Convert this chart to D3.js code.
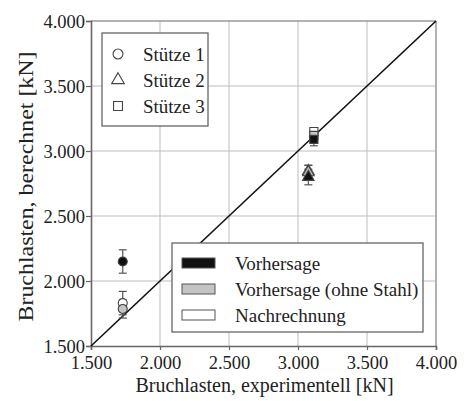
<!DOCTYPE html>
<html>
<head>
<meta charset="utf-8">
<script src="https://cdn.jsdelivr.net/npm/d3@7"></script>
<style>
  html, body { margin: 0; padding: 0; background: #fff; }
  svg { display: block; }
  text { font-family: "Liberation Serif", "Times New Roman", serif; fill: #222; }
</style>
</head>
<body>
<svg id="chart" width="470" height="401"></svg>
<script>
// Failure loads: experiment vs. calculation [kN]
const ticks = [1500, 2000, 2500, 3000, 3500, 4000];
const columns = ["Stütze 1", "Stütze 2", "Stütze 3"];
const symbols = ["circle", "triangle", "square"];
const methods = ["Vorhersage", "Vorhersage (ohne Stahl)", "Nachrechnung"];
const methodFill = ["#111111", "#c4c4c4", "#ffffff"];

// experimental load per column
const experimental = [1730, 3075, 3115];
// calculated loads per column: [Vorhersage, ohne Stahl, Nachrechnung]
const predicted      = [2150, 2800, 3090];
const predictedNoSt  = [1785, 2835, 3120];
const recalculated   = [1830, 2845, 3150];
// scatter of the calculated values (±)
const errPredicted     = [90, 60, 50];
const errPredictedNoSt = [70, 55, 40];
const errRecalculated  = [90, 45, 30];

const fmt = v => d3.format(",.3f")(v / 1000).replace(",", "");

const svg = d3.select("#chart");
const x = d3.scaleLinear().domain([1500, 4000]).range([91, 436]);
const y = d3.scaleLinear().domain([1500, 4000]).range([346, 21]);

// grid
svg.append("g").selectAll("line.v").data(ticks.slice(1, -1)).join("line")
  .attr("x1", d => x(d)).attr("x2", d => x(d))
  .attr("y1", y(1500)).attr("y2", y(4000))
  .attr("stroke", "#bdbdbd").attr("stroke-width", 1);
svg.append("g").selectAll("line.h").data(ticks.slice(1, -1)).join("line")
  .attr("y1", d => y(d)).attr("y2", d => y(d))
  .attr("x1", x(1500)).attr("x2", x(4000))
  .attr("stroke", "#bdbdbd").attr("stroke-width", 1);

// frame: top/right lighter
svg.append("line").attr("x1", x(1500)).attr("x2", x(4000)).attr("y1", y(4000)).attr("y2", y(4000))
  .attr("stroke", "#9a9a9a").attr("stroke-width", 1.5);
svg.append("line").attr("x1", x(4000)).attr("x2", x(4000)).attr("y1", y(4000)).attr("y2", y(1500))
  .attr("stroke", "#9a9a9a").attr("stroke-width", 1.5);

// axes
const xAxis = svg.append("g").attr("transform", `translate(0,${y(1500)})`)
  .call(d3.axisBottom(x).tickValues(ticks).tickFormat(fmt).tickSize(4).tickPadding(6));
const yAxis = svg.append("g").attr("transform", `translate(${x(1500)},0)`)
  .call(d3.axisLeft(y).tickValues(ticks).tickFormat(fmt).tickSize(5).tickPadding(1));
[xAxis, yAxis].forEach(a => {
  a.select(".domain").attr("stroke", "#666").attr("stroke-width", 1.6);
  a.selectAll(".tick line").attr("stroke", "#666").attr("stroke-width", 1.2);
  a.selectAll(".tick text").attr("font-family", "Liberation Serif").attr("font-size", 18.5).attr("fill", "#333");
});
yAxis.selectAll(".tick text").attr("dy", "0.36em");

// axis titles
svg.append("text").attr("x", (x(1500) + x(4000)) / 2 + 1).attr("y", 392)
  .attr("text-anchor", "middle").attr("font-size", 20).attr("fill", "#333")
  .text("Bruchlasten, experimentell [kN]");
svg.append("text").attr("transform", `translate(33,${(y(1500) + y(4000)) / 2 + 3}) rotate(-90)`)
  .attr("text-anchor", "middle").attr("font-size", 21).attr("fill", "#333")
  .attr("textLength", 270).attr("lengthAdjust", "spacingAndGlyphs")
  .text("Bruchlasten, berechnet [kN]");

// 1:1 line
svg.append("line").attr("x1", x(1500)).attr("y1", y(1500)).attr("x2", x(4000)).attr("y2", y(4000))
  .attr("stroke", "#111").attr("stroke-width", 1.6);

// markers
const symType = { circle: d3.symbolCircle, triangle: d3.symbolTriangle, square: d3.symbolSquare };
const symSize = { circle: 64, triangle: 58, square: 66 };
const pts = [];
const order = [[recalculated, errRecalculated, 2], [predictedNoSt, errPredictedNoSt, 1], [predicted, errPredicted, 0]];
columns.forEach((c, i) => {
  order.forEach(([vals, errs, m]) => {
    pts.push({ col: i, sym: symbols[i], m, ex: experimental[i], v: vals[i], e: errs[i] });
  });
});

const g = svg.append("g");
pts.forEach(p => {
  const cx = x(p.ex);
  const eb = g.append("g").attr("stroke", "#555").attr("stroke-width", 1.2);
  eb.append("line").attr("x1", cx).attr("x2", cx).attr("y1", y(p.v - p.e)).attr("y2", y(p.v + p.e));
  eb.append("line").attr("x1", cx - 4).attr("x2", cx + 4).attr("y1", y(p.v - p.e)).attr("y2", y(p.v - p.e));
  eb.append("line").attr("x1", cx - 4).attr("x2", cx + 4).attr("y1", y(p.v + p.e)).attr("y2", y(p.v + p.e));
});
pts.forEach(p => {
  g.append("path")
    .attr("d", d3.symbol().type(symType[p.sym]).size(symSize[p.sym])())
    .attr("transform", `translate(${x(p.ex)},${y(p.v)})`)
    .attr("fill", methodFill[p.m]).attr("stroke", "#444").attr("stroke-width", 1.1);
});

// legend: columns
const lg1 = svg.append("g");
lg1.append("rect").attr("x", 102).attr("y", 33).attr("width", 106).attr("height", 93)
  .attr("fill", "#fff").attr("stroke", "#666").attr("stroke-width", 1.3);
columns.forEach((c, i) => {
  const yy = 54 + i * 26;
  lg1.append("path")
    .attr("d", d3.symbol().type(symType[symbols[i]]).size(symSize[symbols[i]] * 1.2)())
    .attr("transform", `translate(118,${yy})`)
    .attr("fill", "#fff").attr("stroke", "#444").attr("stroke-width", 1.1);
  lg1.append("text").attr("x", 143).attr("y", yy).attr("dy", "0.35em")
    .attr("font-size", 19).text(c);
});

// legend: calculation methods
const lg2 = svg.append("g");
lg2.append("rect").attr("x", 172).attr("y", 243).attr("width", 251).attr("height", 89)
  .attr("fill", "#fff").attr("stroke", "#666").attr("stroke-width", 1.3);
methods.forEach((mth, i) => {
  const yy = 263 + i * 26;
  lg2.append("rect").attr("x", 182).attr("y", yy - 5).attr("width", 33).attr("height", 10)
    .attr("fill", methodFill[i]).attr("stroke", "#555").attr("stroke-width", 1);
  lg2.append("text").attr("x", 235).attr("y", yy).attr("dy", "0.35em")
    .attr("font-size", 19).text(mth);
});
</script>
</body>
</html>
